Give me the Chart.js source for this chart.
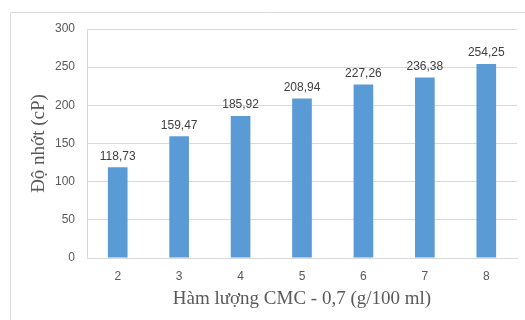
<!DOCTYPE html>
<html lang="vi">
<head>
    <meta charset="UTF-8">
    <title>Độ nhớt theo hàm lượng CMC</title>
    <script src="https://cdn.jsdelivr.net/npm/chart.js"></script>
    <style>
        body {
            margin: 0;
            background: #fff;
        }
        .chart-container {
            position: relative;
            width: 525px;
            height: 320px;
        }
    </style>
</head>
<body>
    <div class="chart-container">
        <canvas id="barChart"></canvas>
    </div>

    <script>
        // datos del gráfico
        const categories = ['2', '3', '4', '5', '6', '7', '8'];
        const viscosity = [118.73, 159.47, 185.92, 208.94, 227.26, 236.38, 254.25];
        const yTicks = [0, 50, 100, 150, 200, 250, 300];
        const xTitle = 'Hàm lượng CMC - 0,7 (g/100 ml)';
        const yTitle = 'Độ nhớt (cP)';

        // marco gris exterior (solo izquierda y arriba se ven)
        const framePlugin = {
            id: 'frame',
            beforeDraw(chart) {
                const ctx = chart.ctx;
                ctx.save();
                ctx.strokeStyle = '#d9d9d9';
                ctx.lineWidth = 1;
                ctx.beginPath();
                ctx.moveTo(10.5, chart.height);
                ctx.lineTo(10.5, 12.5);
                ctx.lineTo(chart.width, 12.5);
                ctx.stroke();
                ctx.restore();
            }
        };

        // etiquetas de valor encima de cada barra
        const valueLabels = {
            id: 'valueLabels',
            afterDatasetsDraw(chart) {
                const ctx = chart.ctx;
                const meta = chart.getDatasetMeta(0);
                ctx.save();
                ctx.font = '12px "Liberation Sans", Arial, sans-serif';
                ctx.fillStyle = '#404040';
                ctx.textAlign = 'center';
                ctx.textBaseline = 'bottom';
                meta.data.forEach((bar, i) => {
                    const txt = viscosity[i].toFixed(2).replace('.', ',');
                    ctx.fillText(txt, bar.x, bar.y - 5);
                });
                ctx.restore();
            }
        };

        const ctx = document.getElementById('barChart').getContext('2d');
        new Chart(ctx, {
            type: 'bar',
            data: {
                labels: categories,
                datasets: [{
                    data: viscosity,
                    backgroundColor: '#5b9bd5',
                    barPercentage: 1,
                    categoryPercentage: 0.32
                }]
            },
            options: {
                responsive: true,
                maintainAspectRatio: false,
                animation: false,
                layout: {
                    padding: { left: 0, right: 8, top: 29, bottom: 0 }
                },
                plugins: {
                    legend: { display: false },
                    tooltip: { enabled: false }
                },
                scales: {
                    x: {
                        grid: { display: false, drawTicks: false },
                        border: { display: true, color: '#d9d9d9' },
                        ticks: {
                            color: '#595959',
                            padding: 11,
                            font: { family: '"Liberation Sans", Arial, sans-serif', size: 12 }
                        },
                        title: {
                            display: true,
                            text: xTitle,
                            color: '#595959',
                            padding: { top: 0, bottom: 10 },
                            font: { family: '"Liberation Serif", "Times New Roman", serif', size: 19 }
                        },
                        afterFit(scale) { scale.height = 62; }
                    },
                    y: {
                        min: 0,
                        max: 300,
                        afterBuildTicks(scale) {
                            scale.ticks = yTicks.map(v => ({ value: v }));
                        },
                        grid: { color: '#d9d9d9', drawTicks: false },
                        border: { display: true, color: '#d9d9d9' },
                        ticks: {
                            color: '#595959',
                            padding: 12,
                            font: { family: '"Liberation Sans", Arial, sans-serif', size: 12 }
                        },
                        title: {
                            display: true,
                            text: yTitle,
                            color: '#595959',
                            padding: { top: 28, bottom: 0 },
                            font: { family: '"Liberation Serif", "Times New Roman", serif', size: 19 }
                        },
                        afterFit(scale) { scale.width = 87; }
                    }
                }
            },
            plugins: [framePlugin, valueLabels]
        });
    </script>
</body>
</html>
